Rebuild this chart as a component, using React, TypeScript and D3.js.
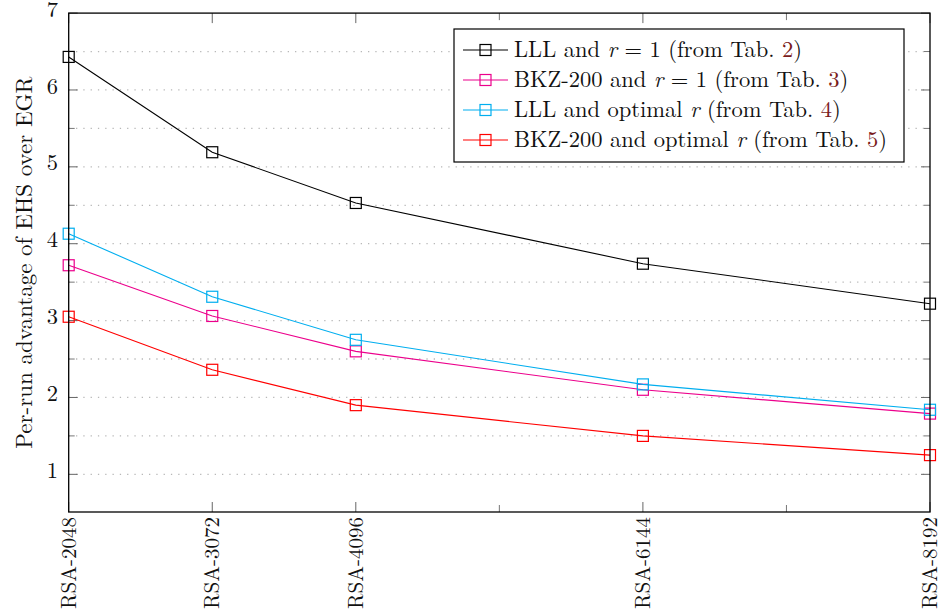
import React from "react";
import * as d3 from "d3";

const xValues = [2048, 3072, 4096, 6144, 8192];
const xLabels = ["RSA-2048", "RSA-3072", "RSA-4096", "RSA-6144", "RSA-8192"];
const lllR1 = [6.43, 5.19, 4.53, 3.74, 3.22];
const bkzR1 = [3.72, 3.06, 2.6, 2.1, 1.79];
const lllOpt = [4.13, 3.31, 2.75, 2.17, 1.84];
const bkzOpt = [3.05, 2.36, 1.9, 1.5, 1.25];
const yMajor = [1, 2, 3, 4, 5, 6, 7];
const yMinor = [1.5, 2.5, 3.5, 4.5, 5.5, 6.5];
const xMinor = [5120, 7168];
const seriesNames = ["LLL and ", "BKZ-200 and ", "LLL and optimal ", "BKZ-200 and optimal "];
const seriesMid = [" = 1 (from Tab. ", " = 1 (from Tab. ", " (from Tab. ", " (from Tab. "];
const tabNumbers = ["2", "3", "4", "5"];
const colors = ["#000000", "#ec008c", "#00aeef", "#ff0000"];
const allSeries = [lllR1, bkzR1, lllOpt, bkzOpt];

const FONT = "Latin Modern Roman";
const FS = 22.5;

export default function App() {
  const W = 938, H = 611;
  const left = 68.7, right = 930, top = 13.1, bottom = 512;
  const x = d3.scaleLinear().domain([2048, 8192]).range([left, right]);
  const y = d3.scaleLinear().domain([0.51, 7]).range([bottom, top]);
  const line = d3.line<number>().x((_, i) => x(xValues[i])).y((d) => y(d));
  const ms = 11;

  return (
    <svg width={W} height={H} style={{ position: "absolute", left: 0, top: 0, background: "#fff", fontFamily: FONT }}>
      <rect width={W} height={H} fill="#fff" />
      {[...yMajor, ...yMinor].filter((v) => v < 7).map((v) => (
        <line key={"g" + v} x1={left} x2={right} y1={y(v)} y2={y(v)} stroke="#b8b8b8" strokeWidth={1.3} strokeDasharray="1.3 6" />
      ))}
      {yMajor.map((v) => (
        <g key={"ym" + v}>
          <line x1={left} x2={left + 9} y1={y(v)} y2={y(v)} stroke="#666" strokeWidth={1} />
          <line x1={right} x2={right - 9} y1={y(v)} y2={y(v)} stroke="#666" strokeWidth={1} />
          <text x={58} y={y(v)} dy="0.16em" textAnchor="end" fontSize={FS} fill="#111" style={{ fontFamily: FONT }}>{v}</text>
        </g>
      ))}
      {yMinor.map((v) => (
        <g key={"yn" + v}>
          <line x1={left} x2={left + 6} y1={y(v)} y2={y(v)} stroke="#777" strokeWidth={1} />
          <line x1={right} x2={right - 6} y1={y(v)} y2={y(v)} stroke="#777" strokeWidth={1} />
        </g>
      ))}
      {xValues.map((v, i) => (
        <g key={"xm" + v}>
          <line x1={x(v)} x2={x(v)} y1={bottom} y2={bottom - 10} stroke="#666" strokeWidth={1} />
          <line x1={x(v)} x2={x(v)} y1={top} y2={top + 10} stroke="#666" strokeWidth={1} />
          <text transform={`translate(${x(v)},${bottom + 5}) rotate(-90)`} textAnchor="end" dy="0.33em" fontSize={21} fill="#111" style={{ fontFamily: FONT }}>{xLabels[i]}</text>
        </g>
      ))}
      {xMinor.map((v) => (
        <g key={"xn" + v}>
          <line x1={x(v)} x2={x(v)} y1={bottom} y2={bottom - 7} stroke="#777" strokeWidth={1} />
          <line x1={x(v)} x2={x(v)} y1={top} y2={top + 7} stroke="#777" strokeWidth={1} />
        </g>
      ))}
      {allSeries.map((s, si) => (
        <g key={"s" + si}>
          <path d={line(s) || ""} fill="none" stroke={colors[si]} strokeWidth={1.1} />
          {s.map((v, i) => (
            <rect key={i} x={x(xValues[i]) - ms / 2} y={y(v) - ms / 2} width={ms} height={ms} fill="none" stroke={colors[si]} strokeWidth={1.2} />
          ))}
        </g>
      ))}
      <rect x={left} y={top} width={right - left} height={bottom - top} fill="none" stroke="#000" strokeWidth={1.3} />
      <text transform={`translate(24,${(top + bottom) / 2}) rotate(-90)`} textAnchor="middle" dy="0.33em" fontSize={23} fill="#111" style={{ fontFamily: FONT }}>
        Per-run advantage of EHS over EGR
      </text>
      <g>
        <rect x={454} y={29} width={450} height={133} fill="#fff" stroke="#000" strokeWidth={1.2} />
        {colors.map((c, i) => {
          const ly = 50 + i * 30;
          return (
            <g key={"l" + i}>
              <line x1={463} x2={508} y1={ly} y2={ly} stroke={c} strokeWidth={1.1} />
              <rect x={485.5 - ms / 2} y={ly - ms / 2} width={ms} height={ms} fill="none" stroke={c} strokeWidth={1.2} />
              <text x={514} y={ly} dy="0.33em" fontSize={FS} fill="#111" style={{ fontFamily: FONT }}>
                {seriesNames[i]}
                <tspan fontStyle="italic">r</tspan>
                {seriesMid[i]}
                <tspan fill="#7a1c1c">{tabNumbers[i]}</tspan>
                )
              </text>
            </g>
          );
        })}
      </g>
    </svg>
  );
}
